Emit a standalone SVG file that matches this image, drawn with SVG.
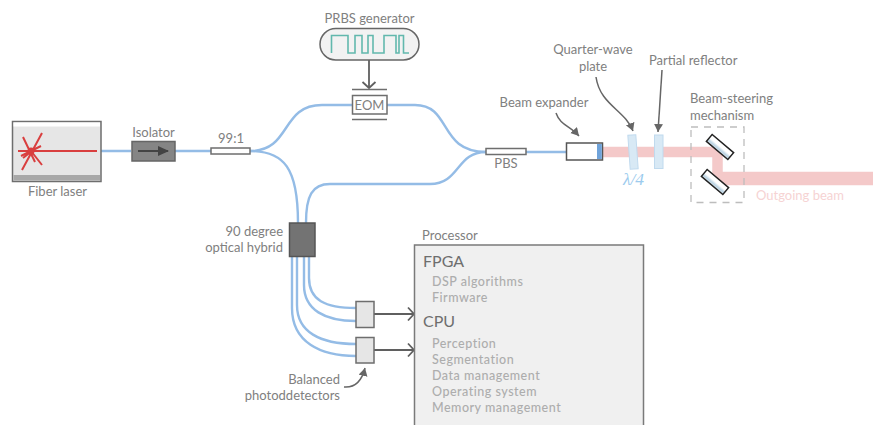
<svg xmlns="http://www.w3.org/2000/svg" width="873" height="425" viewBox="0 0 873 425">
<style>
text{font-family:Lato,"Open Sans",sans-serif;font-size:13px;fill:#808080}
.m{text-anchor:middle}.e{text-anchor:end}
.sub{font-size:12.5px;fill:#adadad;font-weight:500;letter-spacing:.5px}
.head{font-size:16px;fill:#6e6e6e}
.fiber{fill:none;stroke:#94bce6;stroke-width:2.4}
.lead{fill:none;stroke:#666;stroke-width:1.5}
.wire{fill:none;stroke:#5f5f5f;stroke-width:1.8}
.box{stroke:#6e6e6e;stroke-width:1.5}
.las{stroke:#d93f3f;fill:none}
.plate{fill:#d8e9f5;stroke:#c0daee;stroke-width:1}
.mir{fill:url(#mg);stroke:#222;stroke-width:1.5}
</style>
<defs>
<marker id="open" markerUnits="userSpaceOnUse" markerWidth="14" markerHeight="16" refX="9" refY="8" orient="auto"><path d="M3 1.500 L9 8 L3 14.500" fill="none" stroke="#5f5f5f" stroke-width="1.800"/></marker>
<marker id="tip" markerUnits="userSpaceOnUse" markerWidth="10" markerHeight="10" refX="8" refY="4.500" orient="auto"><path d="M0 0 L8 4.500 L0 9 Z" fill="#666"/></marker>
<linearGradient id="mg" x1="0" y1="0" x2="0" y2="1"><stop offset="0" stop-color="#fff"/><stop offset=".45" stop-color="#fff"/><stop offset=".75" stop-color="#b9d2e2"/><stop offset="1" stop-color="#e4edf3"/></linearGradient>
</defs>

<g id="beam">
<path d="M602 152 H717.500 V178.500 H873" fill="none" stroke="#f4c9c9" stroke-width="10.500"/>
<path d="M717 178.500 H873" fill="none" stroke="#f4c9c9" stroke-width="13.500"/>
</g>

<g id="connectors">
<path class="fiber" d="M101 151 H131 M175 151 H211 M526 152 H566"/>
<path class="fiber" d="M250 151 C292 151 280 105 322 105 H352"/>
<path class="fiber" d="M387 105 H415 C452 105 438 152 486 152"/>
<path class="fiber" d="M250 151 C284 151 298 168 298 223"/>
<path class="fiber" d="M486 152 C456 152 460 184 430 184 H330 C312 184 306 196 306 223"/>
<path class="fiber" d="M309 257 V278 C309 300 325 308 356 308"/>
<path class="fiber" d="M304 257 V285 C304 310 325 321 356 321"/>
<path class="fiber" d="M297 257 V305 C297 332 320 344 356 344"/>
<path class="fiber" d="M292 257 V308 C292 342 320 356 356 356"/>
<path class="wire" d="M369 60 V88" marker-end="url(#open)"/>
<path class="wire" d="M374 314 H414" marker-end="url(#open)"/>
<path class="wire" d="M374 350 H414" marker-end="url(#open)"/>
<path class="lead" d="M556 113 C560 125 570 126 579 136" marker-end="url(#tip)"/>
<path class="lead" d="M596 77 C600 105 625 110 633 131" marker-end="url(#tip)"/>
<path class="lead" d="M662 70 L658 132" marker-end="url(#tip)"/>
<path class="lead" d="M344 387 C356 388 362 380 365 368" marker-end="url(#tip)"/>
</g>

<g id="fiber-laser">
<rect class="box" x="12.500" y="121.500" width="88.500" height="60" fill="#e6e6e6"/>
<rect x="13.500" y="122.500" width="86.500" height="4" fill="#fff"/>
<rect x="13.500" y="175" width="86.500" height="5.500" fill="#a8a8a8"/>
<path class="las" stroke-width="2" d="M18 151 H97"/>
<path class="las" stroke-width="2" d="M21 156 L41 146 M23 137 L35 162 M42 133 L22 170 M31 151 L42 165 M23 158 L32 151"/>
<circle cx="31" cy="151" r="3.500" fill="#d93f3f"/>
<text class="m" x="57.500" y="196">Fiber laser</text>
</g>

<g id="isolator">
<rect x="132" y="141.500" width="43" height="19.500" fill="#858585" stroke="#666" stroke-width="1.500"/>
<path d="M138 151 H168" fill="none" stroke="#444" stroke-width="2"/>
<path d="M158 146 L169 151 L158 156 Z" fill="#444"/>
<text class="m" x="153.500" y="137">Isolator</text>
</g>

<g id="splitter">
<rect class="box" x="211" y="148" width="39" height="6" fill="#fff"/>
<text class="m" x="231" y="143">99:1</text>
</g>

<g id="prbs-generator">
<rect x="320" y="28.500" width="99" height="31.500" rx="15.750" fill="#f2f2f2" stroke="#666" stroke-width="1.500"/>
<path d="M331.500 53 V35.500 H348 V53 H355 V35.500 H362 V53 H368 V35.500 H373 V53 H384 V35.500 H396 V53 H399 V35.500 H403.500 V53 H409" fill="none" stroke="#62b8ad" stroke-width="1.600"/>
<text class="m" x="369.500" y="23">PRBS generator</text>
</g>

<g id="eom">
<rect class="box" x="352.500" y="95.500" width="34.500" height="18.500" fill="#fff"/>
<path d="M352 89.500 H387 M352 119.500 H387" stroke="#6e6e6e" stroke-width="1.500" fill="none"/>
<text class="m" x="369.500" y="110">EOM</text>
</g>

<g id="pbs">
<rect class="box" x="486" y="148.500" width="40" height="6" fill="#fff"/>
<text class="m" x="506" y="168">PBS</text>
</g>

<g id="beam-expander">
<rect x="566.500" y="143" width="36" height="17" fill="#fff" stroke="#555" stroke-width="1.500"/>
<rect x="597" y="144" width="4.800" height="15" fill="#6fa3da"/>
<text class="m" x="544" y="107">Beam expander</text>
</g>

<g id="quarter-wave-plate">
<rect class="plate" x="629" y="135" width="8" height="34" transform="rotate(-4 633 152)"/>
<text class="m" x="593" y="54">Quarter-wave</text>
<text class="m" x="593" y="71">plate</text>
<text class="m" x="633.500" y="185" style="font-family:'Liberation Serif',serif;font-size:17.500px;font-style:italic;fill:#9ccbee">λ/4</text>
</g>

<g id="partial-reflector">
<rect class="plate" x="654.500" y="135" width="8.500" height="33.500"/>
<text x="649" y="65">Partial reflector</text>
</g>

<g id="beam-steering">
<rect x="691" y="127" width="53" height="75.500" fill="none" stroke="#bdbdbd" stroke-width="1.300" stroke-dasharray="7 6"/>
<rect class="mir" x="706" y="142.500" width="28" height="9" transform="rotate(40 720 147)"/>
<rect class="mir" x="701" y="177.500" width="28" height="9" transform="rotate(40 715 182)"/>
<text x="690" y="103">Beam-steering</text>
<text x="690" y="120">mechanism</text>
</g>

<text id="outgoing-beam" x="756" y="200" style="fill:#f6d3d3">Outgoing beam</text>

<g id="optical-hybrid">
<rect x="289.500" y="223" width="25.500" height="33.500" fill="#737373" stroke="#555" stroke-width="1.500"/>
<text class="e" x="283" y="236">90 degree</text>
<text class="e" x="283" y="252">optical hybrid</text>
</g>

<g id="photodetectors">
<rect x="356" y="301.500" width="18" height="26" fill="#e6e6e6" stroke="#6e6e6e" stroke-width="1.500"/>
<rect x="356" y="337.500" width="18" height="25.500" fill="#e6e6e6" stroke="#6e6e6e" stroke-width="1.500"/>
<text class="e" x="340" y="384">Balanced</text>
<text class="e" x="340" y="400">photoddetectors</text>
</g>

<g id="processor">
<rect x="414.500" y="245" width="229" height="190" fill="#f0f0f0" stroke="#7a7a7a" stroke-width="1.500"/>
<text x="422" y="240">Processor</text>
<text class="head" x="423" y="267">FPGA</text>
<text class="sub" x="432" y="286">DSP algorithms</text>
<text class="sub" x="432" y="302">Firmware</text>
<text class="head" x="423" y="327">CPU</text>
<text class="sub" x="432" y="348">Perception</text>
<text class="sub" x="432" y="364">Segmentation</text>
<text class="sub" x="432" y="380">Data management</text>
<text class="sub" x="432" y="396">Operating system</text>
<text class="sub" x="432" y="412">Memory management</text>
</g>
</svg>
